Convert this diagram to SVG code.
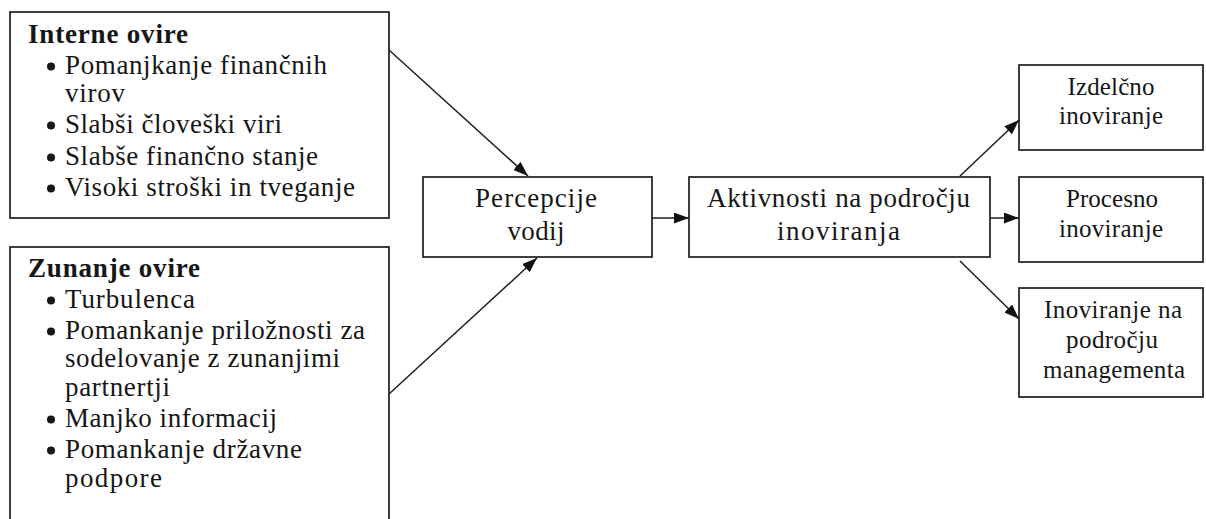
<svg xmlns="http://www.w3.org/2000/svg" width="1206" height="519" viewBox="0 0 1206 519">
  <style>
    .box { fill: #ffffff; stroke: #1e1e1e; stroke-width: 1.7; }
    .t { font-family: "Liberation Serif", "Times New Roman", serif; font-size: 27px; fill: #161616; }
    .s { font-size: 25px; }
    .h { font-weight: bold; }
    .c { text-anchor: middle; }
    .dot { fill: #161616; }
    .conn { stroke: #1e1e1e; stroke-width: 1.5; fill: none; marker-end: url(#ah); }
  </style>
  <defs>
    <marker id="ah" markerWidth="15" markerHeight="11" refX="15" refY="5.5" orient="auto" markerUnits="userSpaceOnUse">
      <path d="M0,0 L15,5.5 L0,11 z" fill="#111111"/>
    </marker>
  </defs>
  <rect width="1206" height="519" fill="#ffffff"/>

  <!-- internal barriers -->
  <g id="interne-ovire">
    <rect class="box" x="10" y="12" width="379" height="206"/>
    <text class="t h" x="28" y="43" textLength="160" lengthAdjust="spacing">Interne ovire</text>
    <circle class="dot" cx="51" cy="66.5" r="4"/>
    <text class="t" x="65" y="74" textLength="262" lengthAdjust="spacing">Pomanjkanje finančnih</text>
    <text class="t" x="65" y="102" textLength="60" lengthAdjust="spacing">virov</text>
    <circle class="dot" cx="51" cy="125.5" r="4"/>
    <text class="t" x="65" y="133" textLength="217" lengthAdjust="spacing">Slabši človeški viri</text>
    <circle class="dot" cx="51" cy="157.5" r="4"/>
    <text class="t" x="65" y="165" textLength="253" lengthAdjust="spacing">Slabše finančno stanje</text>
    <circle class="dot" cx="51" cy="188.5" r="4"/>
    <text class="t" x="65" y="196" textLength="290" lengthAdjust="spacing">Visoki stroški in tveganje</text>
  </g>

  <!-- external barriers -->
  <g id="zunanje-ovire">
    <rect class="box" x="10" y="247" width="379" height="290"/>
    <text class="t h" x="28" y="277" textLength="172" lengthAdjust="spacing">Zunanje ovire</text>
    <circle class="dot" cx="51" cy="300.5" r="4"/>
    <text class="t" x="65" y="308" textLength="130" lengthAdjust="spacing">Turbulenca</text>
    <circle class="dot" cx="51" cy="331.5" r="4"/>
    <text class="t" x="65" y="339" textLength="300" lengthAdjust="spacing">Pomankanje priložnosti za</text>
    <text class="t" x="65" y="367" textLength="275" lengthAdjust="spacing">sodelovanje z zunanjimi</text>
    <text class="t" x="65" y="396" textLength="105" lengthAdjust="spacing">partnertji</text>
    <circle class="dot" cx="51" cy="419.5" r="4"/>
    <text class="t" x="65" y="427" textLength="212" lengthAdjust="spacing">Manjko informacij</text>
    <circle class="dot" cx="51" cy="450.5" r="4"/>
    <text class="t" x="65" y="458" textLength="237" lengthAdjust="spacing">Pomankanje državne</text>
    <text class="t" x="65" y="487" textLength="97" lengthAdjust="spacing">podpore</text>
  </g>

  <g id="percepcije-vodij">
    <rect class="box" x="423" y="177" width="229" height="80"/>
    <text class="t c" x="536" y="207" textLength="122" lengthAdjust="spacing">Percepcije</text>
    <text class="t c" x="536" y="240" textLength="57" lengthAdjust="spacing">vodij</text>
  </g>

  <g id="aktivnosti">
    <rect class="box" x="689" y="177" width="301" height="80"/>
    <text class="t c" x="838.5" y="207" textLength="263" lengthAdjust="spacing">Aktivnosti na področju</text>
    <text class="t c" x="838.5" y="240" textLength="123" lengthAdjust="spacing">inoviranja</text>
  </g>

  <g id="izdelcno">
    <rect class="box" x="1019" y="65" width="184" height="85"/>
    <text class="t s c" x="1111" y="95" textLength="87" lengthAdjust="spacing">Izdelčno</text>
    <text class="t s c" x="1111" y="124" textLength="104" lengthAdjust="spacing">inoviranje</text>
  </g>

  <g id="procesno">
    <rect class="box" x="1019" y="177" width="184" height="85"/>
    <text class="t s c" x="1112" y="207" textLength="92" lengthAdjust="spacing">Procesno</text>
    <text class="t s c" x="1111" y="237" textLength="104" lengthAdjust="spacing">inoviranje</text>
  </g>

  <g id="management">
    <rect class="box" x="1019" y="288" width="184" height="109"/>
    <text class="t s c" x="1113" y="318" textLength="138" lengthAdjust="spacing">Inoviranje na</text>
    <text class="t s c" x="1112" y="348" textLength="92" lengthAdjust="spacing">področju</text>
    <text class="t s c" x="1114" y="378" textLength="142" lengthAdjust="spacing">managementa</text>
  </g>

  <!-- connectors -->
  <g id="connectors">
    <line class="conn" x1="389" y1="50" x2="528" y2="176"/>
    <line class="conn" x1="389" y1="394" x2="537" y2="258"/>
    <line class="conn" x1="652" y1="218" x2="689" y2="218"/>
    <line class="conn" x1="960" y1="176" x2="1019" y2="120"/>
    <line class="conn" x1="990" y1="218" x2="1019" y2="218"/>
    <line class="conn" x1="960" y1="261" x2="1019" y2="319"/>
  </g>
</svg>
